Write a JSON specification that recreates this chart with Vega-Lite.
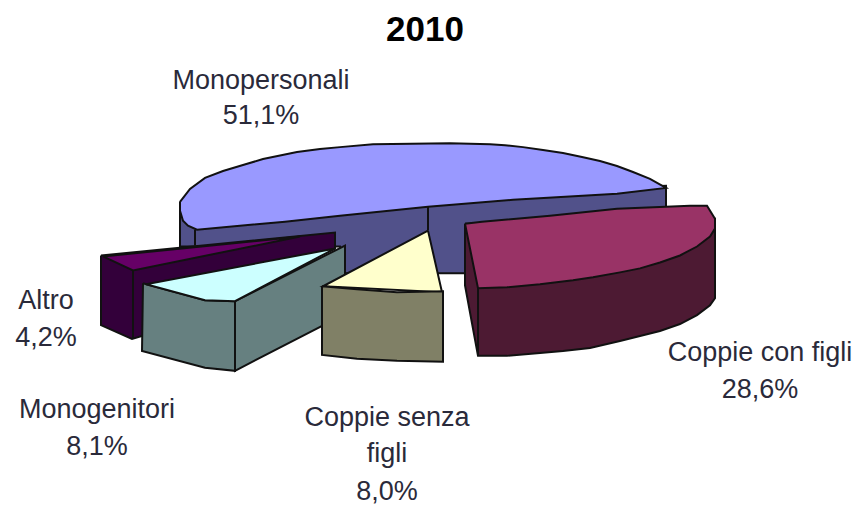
{"$schema":"https://vega.github.io/schema/vega-lite/v6.json","width":857,"height":505,"autosize":{"type":"fit","contains":"padding"},"padding":0,"background":"white","view":{"stroke":null},"config":{"font":"Liberation Sans"},
"datasets":{"faces":[
{"face":"Monopersonali side","n":1,"x":180,"y":203},{"face":"Monopersonali side","n":2,"x":180,"y":248},{"face":"Monopersonali side","n":3,"x":340,"y":248},{"face":"Monopersonali side","n":4,"x":345,"y":275},{"face":"Monopersonali side","n":5,"x":465,"y":275},{"face":"Monopersonali side","n":6,"x":666,"y":208},{"face":"Monopersonali side","n":7,"x":666,"y":187},{"face":"Monopersonali side","n":8,"x":180,"y":203},
{"face":"Monopersonali top","n":1,"x":180,"y":203},{"face":"Monopersonali top","n":2,"x":190,"y":190},{"face":"Monopersonali top","n":3,"x":205,"y":179},{"face":"Monopersonali top","n":4,"x":223,"y":172},{"face":"Monopersonali top","n":5,"x":243,"y":166},{"face":"Monopersonali top","n":6,"x":263,"y":160},{"face":"Monopersonali top","n":7,"x":297,"y":153},{"face":"Monopersonali top","n":8,"x":320,"y":150},{"face":"Monopersonali top","n":9,"x":340,"y":148},{"face":"Monopersonali top","n":10,"x":373,"y":145},{"face":"Monopersonali top","n":11,"x":450,"y":144},{"face":"Monopersonali top","n":12,"x":490,"y":145},{"face":"Monopersonali top","n":13,"x":505,"y":146},{"face":"Monopersonali top","n":14,"x":523,"y":148},{"face":"Monopersonali top","n":15,"x":543,"y":151},{"face":"Monopersonali top","n":16,"x":563,"y":154},{"face":"Monopersonali top","n":17,"x":582,"y":158},{"face":"Monopersonali top","n":18,"x":600,"y":162},{"face":"Monopersonali top","n":19,"x":617,"y":167},{"face":"Monopersonali top","n":20,"x":633,"y":173},{"face":"Monopersonali top","n":21,"x":650,"y":180},{"face":"Monopersonali top","n":22,"x":666,"y":189},{"face":"Monopersonali top","n":23,"x":617,"y":195},{"face":"Monopersonali top","n":24,"x":548,"y":199},{"face":"Monopersonali top","n":25,"x":513,"y":201},{"face":"Monopersonali top","n":26,"x":428,"y":208},{"face":"Monopersonali top","n":27,"x":340,"y":217},{"face":"Monopersonali top","n":28,"x":285,"y":223},{"face":"Monopersonali top","n":29,"x":197,"y":231},{"face":"Monopersonali top","n":30,"x":188,"y":227},{"face":"Monopersonali top","n":31,"x":183,"y":222},{"face":"Monopersonali top","n":32,"x":180,"y":212},{"face":"Monopersonali top","n":33,"x":180,"y":203},
{"face":"Inner edge A","n":1,"x":195,"y":231},{"face":"Inner edge A","n":2,"x":195,"y":247},
{"face":"Inner edge B","n":1,"x":428,"y":208},{"face":"Inner edge B","n":2,"x":428,"y":232},
{"face":"Altro side","n":1,"x":101,"y":257},{"face":"Altro side","n":2,"x":101,"y":327},{"face":"Altro side","n":3,"x":132,"y":341},{"face":"Altro side","n":4,"x":145,"y":337},{"face":"Altro side","n":5,"x":335,"y":250},{"face":"Altro side","n":6,"x":335,"y":234},{"face":"Altro side","n":7,"x":101,"y":257},
{"face":"Altro top","n":1,"x":103,"y":258},{"face":"Altro top","n":2,"x":300,"y":238},{"face":"Altro top","n":3,"x":133,"y":272},{"face":"Altro top","n":4,"x":103,"y":258},
{"face":"Altro edge","n":1,"x":133,"y":272},{"face":"Altro edge","n":2,"x":133,"y":341},
{"face":"Monogenitori front","n":1,"x":143,"y":285},{"face":"Monogenitori front","n":2,"x":142,"y":353},{"face":"Monogenitori front","n":3,"x":205,"y":370},{"face":"Monogenitori front","n":4,"x":235,"y":373},{"face":"Monogenitori front","n":5,"x":235,"y":303},{"face":"Monogenitori front","n":6,"x":205,"y":302},{"face":"Monogenitori front","n":7,"x":143,"y":285},
{"face":"Monogenitori right","n":1,"x":235,"y":303},{"face":"Monogenitori right","n":2,"x":235,"y":373},{"face":"Monogenitori right","n":3,"x":345,"y":316},{"face":"Monogenitori right","n":4,"x":345,"y":247},{"face":"Monogenitori right","n":5,"x":235,"y":303},
{"face":"Monogenitori top","n":1,"x":146,"y":286},{"face":"Monogenitori top","n":2,"x":335,"y":250},{"face":"Monogenitori top","n":3,"x":235,"y":303},{"face":"Monogenitori top","n":4,"x":205,"y":302},{"face":"Monogenitori top","n":5,"x":146,"y":286},
{"face":"Coppie senza figli top","n":1,"x":428,"y":232},{"face":"Coppie senza figli top","n":2,"x":323,"y":288},{"face":"Coppie senza figli top","n":3,"x":442,"y":294},{"face":"Coppie senza figli top","n":4,"x":428,"y":232},
{"face":"Coppie senza figli front","n":1,"x":322,"y":288},{"face":"Coppie senza figli front","n":2,"x":322,"y":357},{"face":"Coppie senza figli front","n":3,"x":357,"y":361},{"face":"Coppie senza figli front","n":4,"x":397,"y":363},{"face":"Coppie senza figli front","n":5,"x":443,"y":364},{"face":"Coppie senza figli front","n":6,"x":443,"y":293},{"face":"Coppie senza figli front","n":7,"x":397,"y":294},{"face":"Coppie senza figli front","n":8,"x":357,"y":291},{"face":"Coppie senza figli front","n":9,"x":322,"y":288},
{"face":"Coppie con figli side","n":1,"x":465,"y":225},{"face":"Coppie con figli side","n":2,"x":465,"y":287},{"face":"Coppie con figli side","n":3,"x":478,"y":358},{"face":"Coppie con figli side","n":4,"x":507,"y":358},{"face":"Coppie con figli side","n":5,"x":540,"y":355},{"face":"Coppie con figli side","n":6,"x":563,"y":353},{"face":"Coppie con figli side","n":7,"x":590,"y":350},{"face":"Coppie con figli side","n":8,"x":620,"y":343},{"face":"Coppie con figli side","n":9,"x":660,"y":333},{"face":"Coppie con figli side","n":10,"x":680,"y":326},{"face":"Coppie con figli side","n":11,"x":697,"y":317},{"face":"Coppie con figli side","n":12,"x":710,"y":307},{"face":"Coppie con figli side","n":13,"x":715,"y":300},{"face":"Coppie con figli side","n":14,"x":715,"y":220},{"face":"Coppie con figli side","n":15,"x":465,"y":225},
{"face":"Coppie con figli top","n":1,"x":465,"y":225},{"face":"Coppie con figli top","n":2,"x":482,"y":223},{"face":"Coppie con figli top","n":3,"x":550,"y":217},{"face":"Coppie con figli top","n":4,"x":617,"y":210},{"face":"Coppie con figli top","n":5,"x":690,"y":207},{"face":"Coppie con figli top","n":6,"x":707,"y":207},{"face":"Coppie con figli top","n":7,"x":715,"y":220},{"face":"Coppie con figli top","n":8,"x":715,"y":230},{"face":"Coppie con figli top","n":9,"x":710,"y":238},{"face":"Coppie con figli top","n":10,"x":697,"y":248},{"face":"Coppie con figli top","n":11,"x":680,"y":257},{"face":"Coppie con figli top","n":12,"x":660,"y":264},{"face":"Coppie con figli top","n":13,"x":640,"y":270},{"face":"Coppie con figli top","n":14,"x":620,"y":274},{"face":"Coppie con figli top","n":15,"x":593,"y":279},{"face":"Coppie con figli top","n":16,"x":573,"y":282},{"face":"Coppie con figli top","n":17,"x":540,"y":286},{"face":"Coppie con figli top","n":18,"x":507,"y":289},{"face":"Coppie con figli top","n":19,"x":478,"y":290},{"face":"Coppie con figli top","n":20,"x":465,"y":225},
{"face":"Coppie con figli edge","n":1,"x":478,"y":290},{"face":"Coppie con figli edge","n":2,"x":478,"y":358}
],
"labels":[
{"label":"Monopersonali","x":261,"y":81},{"label":"51,1%","x":261,"y":117},
{"label":"Coppie con figli","x":760,"y":355},{"label":"28,6%","x":760,"y":392},
{"label":"Coppie senza","x":387,"y":420},{"label":"figli","x":387,"y":457},{"label":"8,0%","x":387,"y":495},
{"label":"Monogenitori","x":97,"y":412},{"label":"8,1%","x":97,"y":450},
{"label":"Altro","x":46,"y":303},{"label":"4,2%","x":46,"y":340}
],
"title":[{"label":"2010","x":425,"y":30}]},
"layer":[
{"data":{"name":"faces"},"mark":{"type":"line","strokeWidth":2,"stroke":"#111111","clip":true,"filled":false},
"encoding":{"x":{"field":"x","type":"quantitative","scale":{"domain":[0,857]},"axis":null},"y":{"field":"y","type":"quantitative","scale":{"domain":[505,0]},"axis":null},"order":{"field":"n","type":"quantitative"},"detail":{"field":"face","sort":null},
"fill":{"field":"face","type":"nominal","legend":null,"sort":null,"scale":{"domain":["Monopersonali side","Monopersonali top","Inner edge A","Inner edge B","Altro side","Altro top","Altro edge","Monogenitori front","Monogenitori right","Monogenitori top","Coppie senza figli top","Coppie senza figli front","Coppie con figli side","Coppie con figli top","Coppie con figli edge"],"range":["#51518a","#9999ff","#51518a","#51518a","#33003a","#660066","#33003a","#668080","#668080","#ccffff","#ffffcc","#808066","#4d1a33","#993366","#4d1a33"]}}}},
{"data":{"name":"labels"},"mark":{"type":"text","fontSize":27,"font":"Liberation Sans","fill":"#2a2a3a","align":"center","baseline":"middle"},
"encoding":{"x":{"field":"x","type":"quantitative","scale":{"domain":[0,857]},"axis":null},"y":{"field":"y","type":"quantitative","scale":{"domain":[505,0]},"axis":null},"text":{"field":"label"}}},
{"data":{"name":"title"},"mark":{"type":"text","fontSize":35,"fontWeight":"bold","font":"Liberation Sans","fill":"#000000","align":"center","baseline":"middle"},
"encoding":{"x":{"field":"x","type":"quantitative","scale":{"domain":[0,857]},"axis":null},"y":{"field":"y","type":"quantitative","scale":{"domain":[505,0]},"axis":null},"text":{"field":"label"}}}
]}
